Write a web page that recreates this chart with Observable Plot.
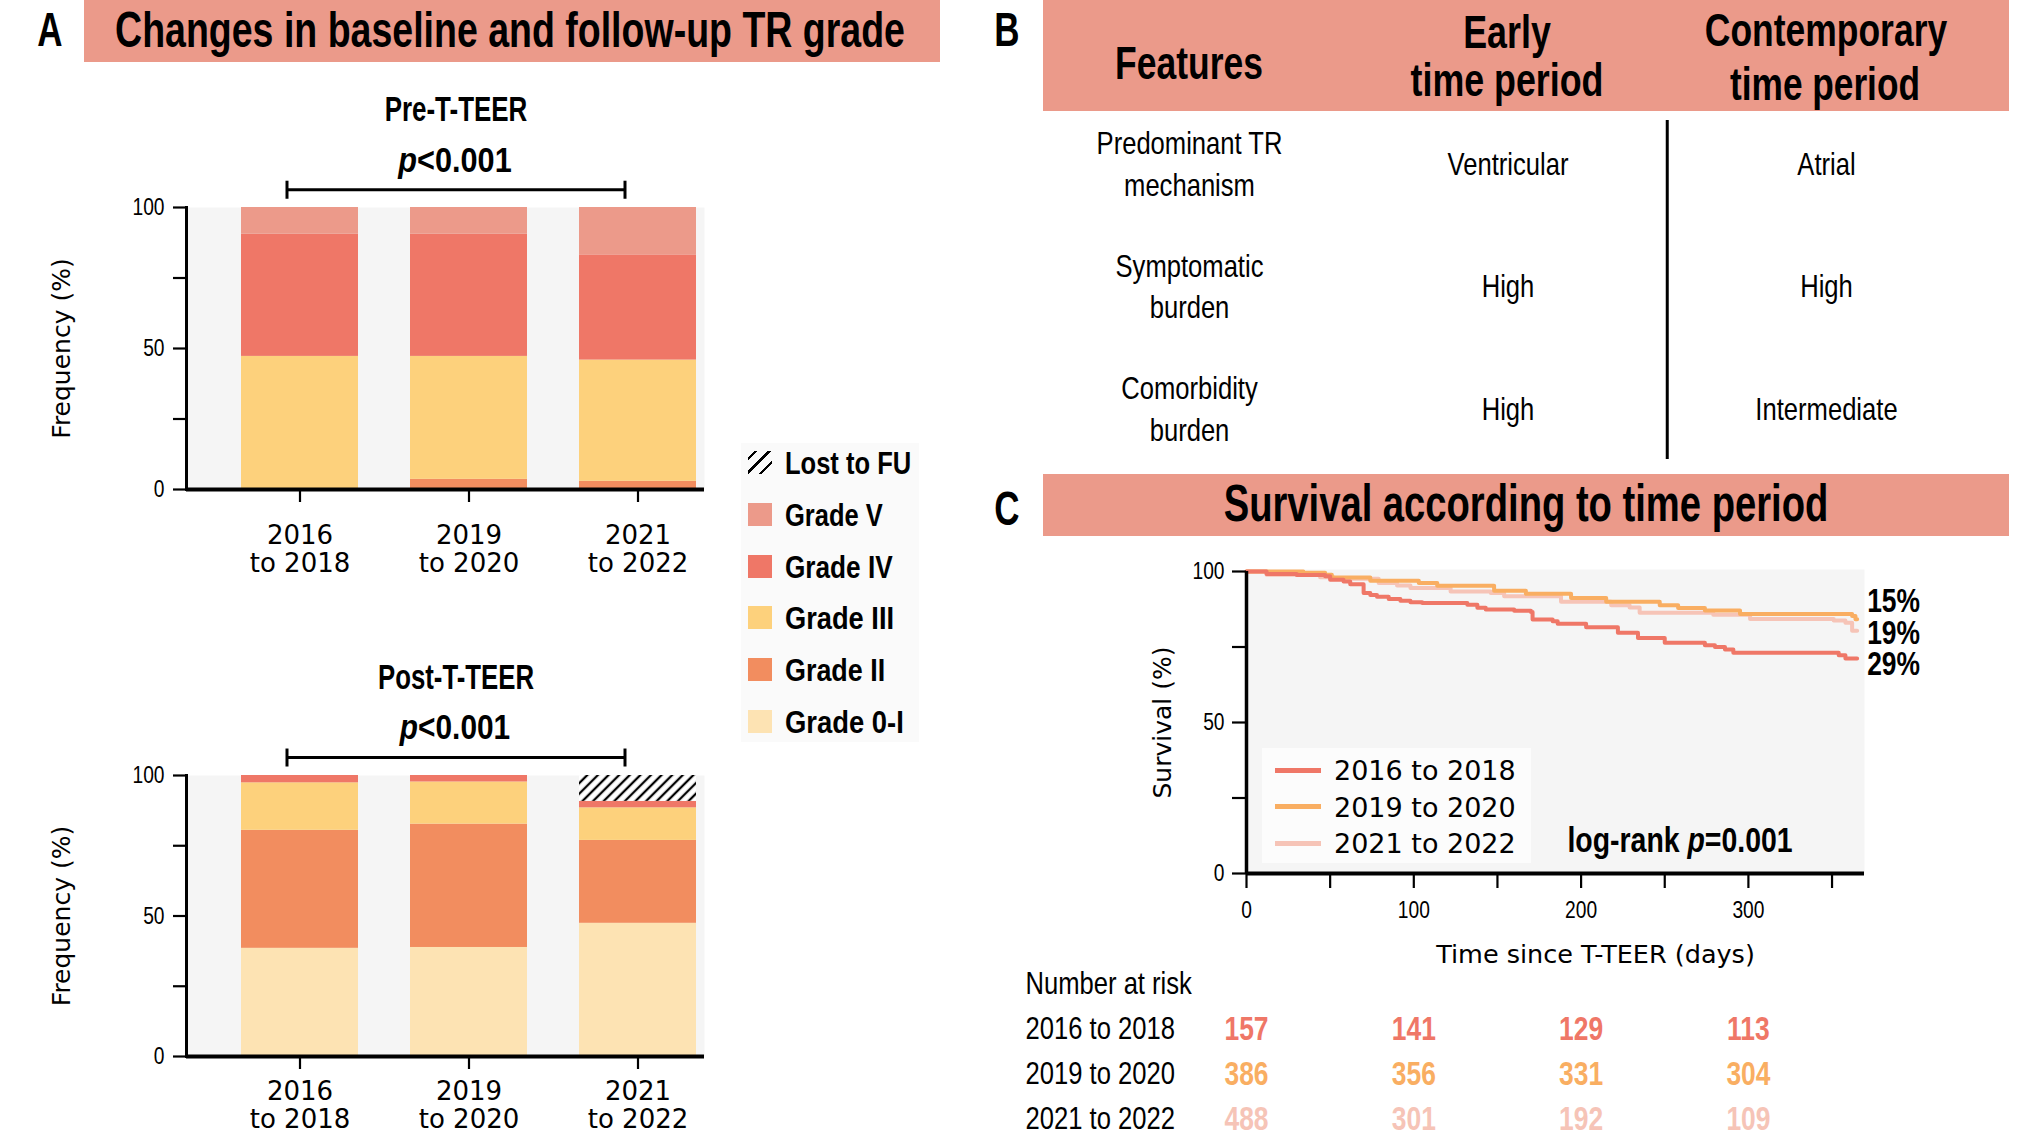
<!DOCTYPE html>
<html><head><meta charset="utf-8">
<script src="https://cdn.jsdelivr.net/npm/d3@7"></script>
<script src="https://cdn.jsdelivr.net/npm/@observablehq/plot@0.6"></script>
<style>
html,body{margin:0;padding:0;background:#fff;}
#fig{position:relative;width:2031px;height:1146px;overflow:hidden;background:#fff;}
.box{position:absolute;background:#EB9A8A;}
.t{position:absolute;white-space:nowrap;line-height:1;}
.plot{position:absolute;}
.plot svg{overflow:visible;display:block;}
</style></head>
<body>
<svg width="0" height="0" style="position:absolute">
 <defs><pattern id="hatch" width="7.5" height="7.5" patternUnits="userSpaceOnUse" patternTransform="rotate(45)">
   <rect width="7.5" height="7.5" fill="#fff"/><line x1="3.75" y1="0" x2="3.75" y2="7.5" stroke="#000" stroke-width="2.3"/></pattern></defs>
</svg>
<div id="fig"></div>
<script>
// ---------------- DATA ----------------
const periods = ["2016 to 2018", "2019 to 2020", "2021 to 2022"];
const grades = ["Grade 0-I", "Grade II", "Grade III", "Grade IV", "Grade V", "Lost to FU"];
const gradeColors = ["#FDE3B3", "#F28D5F", "#FDD17C", "#EF7767", "#EC9A8A", "url(#hatch)"];
const legendOrder = ["Lost to FU", "Grade V", "Grade IV", "Grade III", "Grade II", "Grade 0-I"];

// Pre-T-TEER frequency (%) per period
const preGrade0I  = [0, 0, 0];
const preGradeII  = [0, 3.6, 2.9];
const preGradeIII = [47.2, 43.6, 43.0];
const preGradeIV  = [43.3, 43.3, 37.3];
const preGradeV   = [9.5, 9.5, 16.8];
const preLost     = [0, 0, 0];
// Post-T-TEER frequency (%) per period
const postGrade0I  = [38.5, 38.8, 47.4];
const postGradeII  = [42.0, 43.9, 29.5];
const postGradeIII = [16.9, 15.0, 11.6];
const postGradeIV  = [2.6, 2.3, 2.3];
const postGradeV   = [0, 0, 0];
const postLost     = [0, 0, 9.2];

// Panel B table
const features = ["Predominant TR\nmechanism", "Symptomatic\nburden", "Comorbidity\nburden"];
const earlyValues = ["Ventricular", "High", "High"];
const contempValues = ["Atrial", "High", "Intermediate"];

// Panel C Kaplan-Meier (days, survival %)
const kmColors = ["#EF7767", "#F9AE62", "#F6C4B7"];
const t1618 = [0, 12, 30, 47, 50, 58, 62, 70, 74, 78, 85, 92, 98, 105, 132, 138, 143, 160, 170, 171, 183, 186, 203, 222, 234, 250, 274, 280, 286, 291, 354, 358, 365];
const s1618 = [100, 99.2, 98.8, 98.4, 97.3, 96.7, 95.8, 92.9, 92.2, 91.6, 90.9, 90.3, 89.8, 89.6, 89.0, 88.0, 87.4, 87.0, 86.6, 84.1, 83.5, 82.7, 81.5, 79.7, 78.0, 76.4, 75.6, 75.0, 74.2, 73.1, 72.3, 71.2, 71.2];
const t1920 = [0, 34, 47, 51, 74, 103, 114, 148, 167, 194, 215, 247, 258, 274, 295, 362, 364, 365];
const s1920 = [100, 99.6, 98.9, 98.0, 96.9, 96.2, 95.3, 93.6, 92.6, 91.2, 90.0, 88.8, 87.9, 87.1, 85.9, 85.3, 84.2, 84.2];
const t2122 = [0, 12, 44, 52, 79, 90, 98, 122, 146, 154, 188, 218, 229, 235, 279, 301, 351, 358, 362, 365];
const s2122 = [100, 98.9, 98.1, 97.6, 96.2, 95.4, 94.5, 93.4, 92.9, 91.8, 90.0, 88.8, 88.1, 86.3, 85.7, 84.3, 83.8, 83.0, 80.4, 80.4];
const mortalityLabels = ["29%", "15%", "19%"];
const riskTimes = [0, 100, 200, 300];
const risk1618 = [157, 141, 129, 113];
const risk1920 = [386, 356, 331, 304];
const risk2122 = [488, 301, 192, 109];

// ---------------- HELPERS ----------------
const fig = document.getElementById("fig");
const COND = `"Liberation Sans", Arial, sans-serif`;
const GEO = `"DejaVu Sans", sans-serif`;
const SQ = 0.8; // horizontal compression used for the condensed look

function put(html, x, y, o = {}) {
  const d = document.createElement("div");
  d.className = "t";
  d.innerHTML = html;
  Object.assign(d.style, {
    left: x + "px", top: y + "px",
    fontFamily: o.family || COND, fontSize: (o.size || 30) + "px",
    fontWeight: o.weight || 400, color: o.color || "#000"
  });
  fig.appendChild(d);
  const natural = d.offsetWidth;
  const sx = o.w ? o.w / natural : (o.sx ?? SQ);
  const start = o.anchor === "start";
  d.style.transformOrigin = start ? "left center" : "center center";
  d.style.transform = `translate(${start ? 0 : -50}%,-50%) scaleX(${sx})`;
  return d;
}
function box(l, t, w, h, bg = "#EB9A8A") {
  const d = document.createElement("div");
  d.className = "box";
  Object.assign(d.style, {left: l + "px", top: t + "px", width: w + "px", height: h + "px", background: bg});
  fig.appendChild(d);
  return d;
}
function squeeze(svg) {
  svg.querySelectorAll("text").forEach(t => {
    if (getComputedStyle(t).fontFamily.includes("DejaVu")) return;
    const x = parseFloat(t.getAttribute("x")) || 0;
    const tr = t.getAttribute("transform") || "";
    t.setAttribute("transform", `${tr} translate(${x},0) scale(${SQ},1) translate(${-x},0)`);
  });
}
function mount(svg, l, t) {
  const d = document.createElement("div");
  d.className = "plot";
  d.style.left = l + "px"; d.style.top = t + "px";
  d.appendChild(svg);
  fig.appendChild(d);
  squeeze(svg);
}
const baseStyle = {fontFamily: COND, fontSize: "22px", color: "#000", background: "transparent", overflow: "visible"};

// ---------------- PANEL A ----------------
put("A", 50, 29, {size: 49, weight: 700, w: 25});
box(84, 0, 856, 62);
put("Changes in baseline and follow-up TR grade", 510, 30, {size: 50, weight: 700, w: 790});

function tidy(cols) {
  const rows = [];
  periods.forEach((p, i) => grades.forEach((g, j) => rows.push({period: p, grade: g, value: cols[j][i]})));
  return rows;
}
const preData = tidy([preGrade0I, preGradeII, preGradeIII, preGradeIV, preGradeV, preLost]);
const postData = tidy([postGrade0I, postGradeII, postGradeIII, postGradeIV, postGradeV, postLost]);

function barChart(data, {height, marginTop, marginBottom, bracketY, tickPadding}) {
  return Plot.plot({
    width: 760, height, marginLeft: 186, marginRight: 56, marginTop, marginBottom,
    style: baseStyle,
    x: {domain: periods, paddingInner: 0.305, paddingOuter: 0.183, align: 0.88},
    y: {domain: [0, 100]},
    color: {domain: grades, range: gradeColors},
    marks: [
      Plot.frame({fill: "#F5F5F5", stroke: "none"}),
      Plot.barY(data, {x: "period", y: "value", fill: "grade", order: grades}),
      Plot.ruleY([0], {strokeWidth: 4}),
      Plot.frame({anchor: "left", strokeWidth: 3}),
      Plot.axisY({ticks: [0, 25, 50, 75, 100], tickFormat: d => d % 50 === 0 ? String(d) : "", tickSize: 13, tickPadding: 9, strokeWidth: 2.2, fontSize: 24, label: null}),
      Plot.axisX({tickSize: 13, tickPadding, strokeWidth: 2.2, fontSize: 26, fontFamily: GEO, lineHeight: 1.1, tickFormat: d => d.replace(" ", "\n"), label: null}),
      Plot.link([periods], {x1: d => d[0], x2: d => d[2], y1: () => bracketY, y2: () => bracketY, dx: -13, strokeWidth: 3}),
      Plot.link([periods[0], periods[2]], {x1: d => d, x2: d => d, y1: () => bracketY - 3.2, y2: () => bracketY + 3.2, dx: -13, strokeWidth: 3}),
      Plot.text(["Frequency (%)"], {frameAnchor: "left", textAnchor: "middle", rotate: -90, dx: -125, fontFamily: GEO, fontSize: 25})
    ]
  });
}
mount(barChart(preData, {height: 520, marginTop: 117, marginBottom: 121, bracketY: 106.3, tickPadding: 21}), 0, 90);
mount(barChart(postData, {height: 489, marginTop: 118, marginBottom: 90, bracketY: 106.4, tickPadding: 10}), 0, 657);

put("Pre-T-TEER", 456, 108, {size: 35, weight: 700, w: 143});
put("<i>p</i>&lt;0.001", 455, 159, {size: 35, weight: 700, w: 113});
put("Post-T-TEER", 456, 676, {size: 35, weight: 700, w: 156});
put("<i>p</i>&lt;0.001", 455, 726, {size: 35, weight: 700, w: 110});

// legend A
box(741, 443, 178, 299, "#FAFAFA");
const legendW = {"Lost to FU": 126, "Grade V": 98, "Grade IV": 108, "Grade III": 109, "Grade II": 100, "Grade 0-I": 119};
legendOrder.forEach((g, i) => {
  const y = 463 + i * 51.8;
  const sw = box(748, y - 12, 24, 23, gradeColors[grades.indexOf(g)]);
  if (g === "Lost to FU") sw.style.background = "repeating-linear-gradient(135deg,transparent 0 4.5px,#000 4.5px 7px,transparent 7px 9.5px)";
  put(g, 785, y, {size: 32, weight: 700, anchor: "start", w: legendW[g]});
});

// ---------------- PANEL B ----------------
put("B", 1007, 29, {size: 49, weight: 700, w: 25});
box(1043, 0, 966, 111);
put("Features", 1189, 63, {size: 46, weight: 700, w: 148});
put("Early", 1507, 32, {size: 46, weight: 700, w: 88});
put("time period", 1507, 80, {size: 46, weight: 700, w: 193});
put("Contemporary", 1826, 30, {size: 46, weight: 700, w: 242});
put("time period", 1825, 84, {size: 46, weight: 700, w: 190});

const cells = [];
features.forEach((f, i) => {
  cells.push({col: 0, row: i, text: f});
  cells.push({col: 1, row: i, text: earlyValues[i]});
  cells.push({col: 2, row: i, text: contempValues[i]});
});
mount(Plot.plot({
  width: 966, height: 360, marginTop: 9, marginBottom: 12, marginLeft: 0, marginRight: 0,
  style: baseStyle,
  x: {domain: [0, 2], range: [146, 783], axis: null},
  y: {domain: [0, 2], range: [50, 295], axis: null},
  marks: [
    Plot.text(cells, {x: "col", y: "row", text: "text", fontSize: 32, lineHeight: 1.3}),
    Plot.ruleX([1.5], {strokeWidth: 3})
  ]
}), 1043, 111);

// ---------------- PANEL C ----------------
put("C", 1007, 508, {size: 49, weight: 700, w: 25});
box(1043, 474, 966, 62);
put("Survival according to time period", 1526, 503, {size: 52, weight: 700, w: 605});

function kmRows(ts, ss, series) { return ts.map((t, i) => ({t, s: ss[i], series})); }
const km = [
  ...kmRows(t2122, s2122, periods[2]),
  ...kmRows(t1920, s1920, periods[1]),
  ...kmRows(t1618, s1618, periods[0])
];
const ends = [
  {t: t1618.at(-1), s: s1618.at(-1), label: mortalityLabels[0], dy: 6},
  {t: t1920.at(-1), s: s1920.at(-1), label: mortalityLabels[1], dy: -18},
  {t: t2122.at(-1), s: s2122.at(-1), label: mortalityLabels[2], dy: 3}
];
mount(Plot.plot({
  width: 930, height: 440, marginLeft: 242, marginRight: 70, marginTop: 26, marginBottom: 112,
  style: baseStyle,
  x: {domain: [0, 369.4]},
  y: {domain: [0, 100]},
  color: {domain: periods, range: kmColors},
  marks: [
    Plot.frame({fill: "#F5F5F5", stroke: "none", insetTop: -2}),
    Plot.line(km, {x: "t", y: "s", z: "series", stroke: "series", curve: "step-after", strokeWidth: 4}),
    Plot.ruleY([0], {strokeWidth: 4}),
    Plot.ruleX([0], {strokeWidth: 3.5}),
    Plot.axisY({ticks: [0, 25, 50, 75, 100], tickFormat: d => d % 50 === 0 ? String(d) : "", tickSize: 14, tickPadding: 8, strokeWidth: 2.2, fontSize: 24, label: null}),
    Plot.axisX({ticks: [0, 50, 100, 150, 200, 250, 300, 350], tickFormat: d => d % 100 === 0 ? String(d) : "", tickSize: 15, tickPadding: 12, strokeWidth: 2.2, fontSize: 24, label: null}),
    ...ends.map(e => Plot.text([e], {x: "t", y: "s", text: "label", dx: 10, dy: e.dy, textAnchor: "start", fontWeight: "bold", fontSize: 33})),
    Plot.text(["Survival (%)"], {frameAnchor: "left", textAnchor: "middle", rotate: -90, dx: -84, fontFamily: GEO, fontSize: 25}),
    Plot.text(["Time since T-TEER (days)"], {frameAnchor: "bottom", lineAnchor: "middle", dx: 40, dy: 81, fontFamily: GEO, fontSize: 25.5})
  ]
}), 1004, 545);

// KM legend
box(1262, 748, 269, 115, "#FCFCFC");
periods.forEach((p, i) => {
  const y = 770 + i * 36.5;
  box(1275, y - 2.5, 46, 5, kmColors[i]);
  put(p, 1334, y, {size: 27, family: GEO, anchor: "start", w: 182});
});
put("log-rank <i>p</i>=0.001", 1680, 839, {size: 35, weight: 700, w: 225});

// Number at risk
const riskRows = [];
[risk1618, risk1920, risk2122].forEach((arr, k) => arr.forEach((n, i) => riskRows.push({t: riskTimes[i], series: periods[k], n})));
mount(Plot.plot({
  width: 930, height: 181, marginLeft: 242, marginRight: 70, marginTop: 0, marginBottom: 0,
  style: baseStyle,
  x: {domain: [0, 369.4], axis: null},
  y: {type: "band", domain: ["Number at risk", ...periods], padding: 0, axis: null},
  color: {domain: periods, range: kmColors},
  marks: [
    Plot.text(["Number at risk", ...periods], {y: d => d, frameAnchor: "left", textAnchor: "start", dx: -221, fontSize: 32}),
    Plot.text(riskRows, {x: "t", y: "series", text: "n", fill: "series", fontWeight: "bold", fontSize: 33})
  ]
}), 1004, 960);
</script>
</body></html>
